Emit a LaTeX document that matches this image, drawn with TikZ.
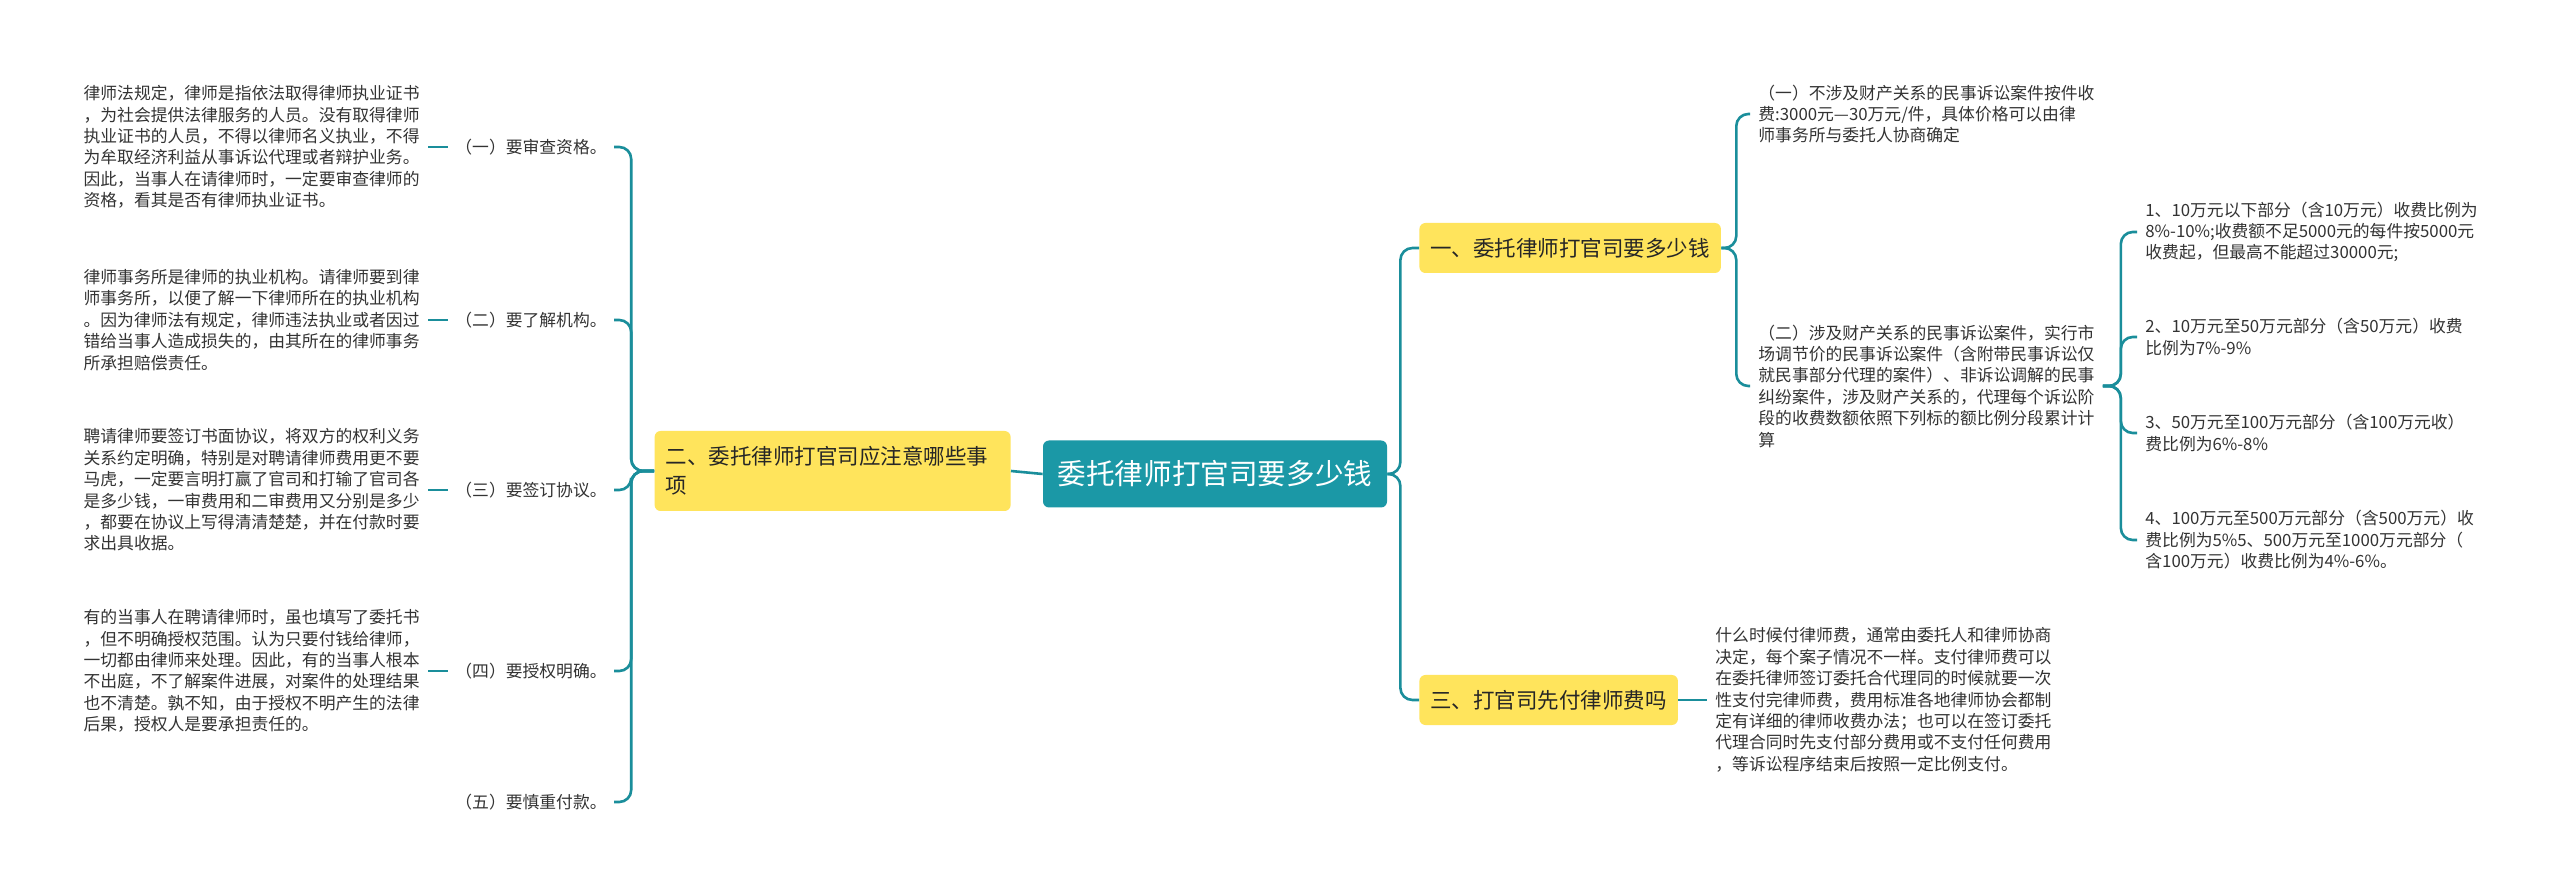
\documentclass[tikz,border=0pt]{standalone}
\usepackage{fontspec}
\setmainfont{Noto Sans CJK SC}
\usetikzlibrary{positioning,calc}
\definecolor{mapteal}{HTML}{1B98A6}
\definecolor{mapline}{HTML}{1A8E9B}
\definecolor{mapyellow}{HTML}{FFE45C}
\definecolor{maptext}{HTML}{333333}

\begin{document}
\begin{tikzpicture}[
  x=0.5pt, y=-0.5pt,
  root/.style={fill=mapteal, rounded corners=3pt, text=white, font=\fontsize{14.3}{17}\selectfont,
               minimum width=172pt, minimum height=33.5pt, inner sep=0pt},
  topic/.style={fill=mapyellow, rounded corners=3pt, text=black!85, font=\fontsize{10.75}{14.5}\selectfont,
                align=left, inner xsep=5.5pt, minimum height=25pt},
  head/.style={text=maptext, font=\fontsize{8.4}{10.7}\selectfont, inner xsep=3.5pt},
  note/.style={text=maptext, font=\fontsize{8.4}{10.7}\selectfont, align=left, inner xsep=4pt, inner ysep=1pt},
  link/.style={mapline, line width=1.3pt, rounded corners=6pt},
]
  \fill[white] (0,0) rectangle (2560,892);
  \useasboundingbox (0,0) rectangle (2560,892);

  \node[root] (root) at (1215,474) {委托律师打官司要多少钱};
  \node[topic, text width=167pt, minimum height=40pt, anchor=east] (care) at (1011,471)
    {二、委托律师打官司应注意哪些事\\项};
  \node[topic, anchor=west] (cost) at (1419,248) {一、委托律师打官司要多少钱};
  \node[topic, anchor=west] (prepay) at (1419,700) {三、打官司先付律师费吗};

  \node[head, anchor=east] (h1) at (614,147) {（一）要审查资格。};
  \node[head, anchor=east] (h2) at (614,320) {（二）要了解机构。};
  \node[head, anchor=east] (h3) at (614,490) {（三）要签订协议。};
  \node[head, anchor=east] (h4) at (614,671) {（四）要授权明确。};
  \node[head, anchor=east] (h5) at (614,802) {（五）要慎重付款。};

  \node[note, anchor=east] (n1) at (428,147) {律师法规定，律师是指依法取得律师执业证书\\
    ，为社会提供法律服务的人员。没有取得律师\\执业证书的人员，不得以律师名义执业，不得\\
    为牟取经济利益从事诉讼代理或者辩护业务。\\因此，当事人在请律师时，一定要审查律师的\\
    资格，看其是否有律师执业证书。};
  \node[note, anchor=east] (n2) at (428,320) {律师事务所是律师的执业机构。请律师要到律\\
    师事务所，以便了解一下律师所在的执业机构\\。因为律师法有规定，律师违法执业或者因过\\
    错给当事人造成损失的，由其所在的律师事务\\所承担赔偿责任。};
  \node[note, anchor=east] (n3) at (428,490) {聘请律师要签订书面协议，将双方的权利义务\\
    关系约定明确，特别是对聘请律师费用更不要\\马虎，一定要言明打赢了官司和打输了官司各\\
    是多少钱，一审费用和二审费用又分别是多少\\，都要在协议上写得清清楚楚，并在付款时要\\
    求出具收据。};
  \node[note, anchor=east] (n4) at (428,671) {有的当事人在聘请律师时，虽也填写了委托书\\
    ，但不明确授权范围。认为只要付钱给律师，\\一切都由律师来处理。因此，有的当事人根本\\
    不出庭，不了解案件进展，对案件的处理结果\\也不清楚。孰不知，由于授权不明产生的法律\\
    后果，授权人是要承担责任的。};

  \node[note, anchor=west] (r1) at (1750,114) {（一）不涉及财产关系的民事诉讼案件按件收\\
    费:3000元—30万元/件，具体价格可以由律\\师事务所与委托人协商确定};
  \node[note, anchor=west] (r2) at (1750,386) {（二）涉及财产关系的民事诉讼案件，实行市\\
    场调节价的民事诉讼案件（含附带民事诉讼仅\\就民事部分代理的案件）、非诉讼调解的民事\\
    纠纷案件，涉及财产关系的，代理每个诉讼阶\\段的收费数额依照下列标的额比例分段累计计\\算};
  \node[note, anchor=west] (f1) at (2137,232) {1、10万元以下部分（含10万元）收费比例为\\
    8\%-10\%;收费额不足5000元的每件按5000元\\收费起，但最高不能超过30000元;};
  \node[note, anchor=west] (f2) at (2137,337) {2、10万元至50万元部分（含50万元）收费\\比例为7\%-9\%};
  \node[note, anchor=west] (f3) at (2137,433) {3、50万元至100万元部分（含100万元收）\\费比例为6\%-8\%};
  \node[note, anchor=west] (f4) at (2137,540) {4、100万元至500万元部分（含500万元）收\\
    费比例为5\%5、500万元至1000万元部分（\\含100万元）收费比例为4\%-6\%。};
  \node[note, anchor=west] (r3) at (1707,700) {什么时候付律师费，通常由委托人和律师协商\\
    决定，每个案子情况不一样。支付律师费可以\\在委托律师签订委托合代理同的时候就要一次\\
    性支付完律师费，费用标准各地律师协会都制\\定有详细的律师收费办法；也可以在签订委托\\
    代理合同时先支付部分费用或不支付任何费用\\，等诉讼程序结束后按照一定比例支付。};

  \draw[link] (root.west) -- (care.east);
  \draw[link] (root.east) -- ++(13,0) |- (cost.west);
  \draw[link] (root.east) -- ++(13,0) |- (prepay.west);

  \draw[link] (care.west) -- ++(-23,0) |- (h1.east);
  \draw[link] (care.west) -- ++(-23,0) |- (h2.east);
  \draw[link] (care.west) -- ++(-23,0) |- (h3.east);
  \draw[link] (care.west) -- ++(-23,0) |- (h4.east);
  \draw[link] (care.west) -- ++(-23,0) |- (h5.east);
  \draw[link] (n1.east) -- (h1.west);
  \draw[link] (n2.east) -- (h2.west);
  \draw[link] (n3.east) -- (h3.west);
  \draw[link] (n4.east) -- (h4.west);

  \draw[link] (cost.east) -- ++(15,0) |- (r1.west);
  \draw[link] (cost.east) -- ++(15,0) |- (r2.west);
  \draw[link] (r2.east) -- ++(18,0) |- (f1.west);
  \draw[link] (r2.east) -- ++(18,0) |- (f2.west);
  \draw[link] (r2.east) -- ++(18,0) |- (f3.west);
  \draw[link] (r2.east) -- ++(18,0) |- (f4.west);
  \draw[link] (prepay.east) -- (r3.west);
\end{tikzpicture}
\end{document}
